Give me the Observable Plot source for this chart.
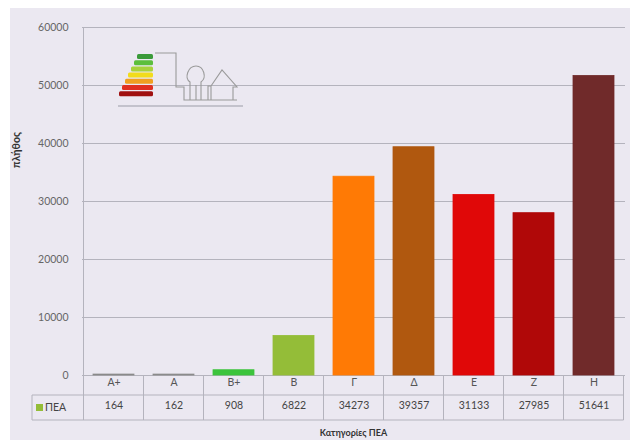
<!DOCTYPE html>
<html><head><meta charset="utf-8">
<script src="https://cdn.jsdelivr.net/npm/d3@7"></script>
<script src="https://cdn.jsdelivr.net/npm/@observablehq/plot@0.6"></script>
<style>
body{margin:0;background:#fff;}
#wrap{position:absolute;left:0;top:0;width:630px;height:440px;}
</style></head><body><div id="wrap"></div>
<script>
const categories = ["A+","A","B+","B","Γ","Δ","Ε","Ζ","Η"];
const values = [164,162,908,6822,34273,39357,31133,27985,51641];
const barColors = ["#8a8a8a","#8a8a8a","#3cc43c","#94bd38","#ff7a05","#b0580f","#e00808","#b00808","#702a2a"];
const yTicks = [0,10000,20000,30000,40000,50000,60000];
const seriesName = "ΠΕΑ";
const yTitle = "πλήθος";
const xTitle = "Κατηγορίες ΠΕΑ";
const logoColors = ["#3a9a3a","#5cbf3c","#a8d23c","#f2dc1c","#f0a020","#e03020","#a01010"];

const data = categories.map((c, i) => ({cat: c, value: values[i]}));
const lineColor = "#b4b3bd";

const chart = Plot.plot({
  width: 630, height: 440,
  marginTop: 27, marginBottom: 65, marginLeft: 82, marginRight: 5,
  style: {background: "#ffffff", fontFamily: "Lato, 'Open Sans', sans-serif", fontSize: "10.5px", color: "#555"},
  x: {domain: categories, paddingInner: 0.32, paddingOuter: 0.16, axis: null},
  y: {domain: [0, 60000], axis: null},
  color: {domain: categories, range: barColors},
  marks: [
    Plot.gridY(yTicks, {stroke: lineColor, strokeOpacity: 1}),
    Plot.axisY(yTicks, {tickSize: 0, tickPadding: 14, tickFormat: d => String(d), fill: "#666", label: null}),
    Plot.barY(data, {x: "cat", y: "value", fill: "cat", stroke: "cat", strokeWidth: 0.8}),
    Plot.text(data, {x: "cat", text: "cat", frameAnchor: "bottom", dy: 10, fill: "#555"}),
    Plot.text(data, {x: "cat", text: d => String(d.value), frameAnchor: "bottom", dy: 33, fill: "#444"})
  ]
});
document.getElementById("wrap").appendChild(chart);

const svg = d3.select(chart);
svg.insert("rect", ":first-child").attr("x", 10).attr("y", 8).attr("width", 620).attr("height", 432).attr("fill", "#ebe8f1");
const xs = chart.scale("x"), ys = chart.scale("y");
const step = xs.step;
const y0 = ys.apply(0), yTop = ys.apply(60000);
const left0 = xs.apply(categories[0]) - (step - xs.bandwidth) / 2;
const right0 = left0 + step * categories.length;
const tableLeft = 32, row1 = y0 + 20, row2 = y0 + 45;
const g = svg.append("g").attr("stroke", lineColor).attr("stroke-width", 1).attr("fill", "none");
g.append("line").attr("x1", left0).attr("x2", left0).attr("y1", yTop).attr("y2", row2);
categories.forEach((c, i) => {
  const xx = left0 + step * (i + 1);
  g.append("line").attr("x1", xx).attr("x2", xx).attr("y1", y0).attr("y2", row2);
});
g.append("line").attr("x1", tableLeft).attr("x2", right0).attr("y1", row1).attr("y2", row1);
g.append("line").attr("x1", tableLeft).attr("x2", right0).attr("y1", row2).attr("y2", row2);
g.append("line").attr("x1", tableLeft).attr("x2", tableLeft).attr("y1", row1).attr("y2", row2);

svg.append("rect").attr("x", 36).attr("y", row1 + 9).attr("width", 7).attr("height", 7).attr("fill", barColors[3]);
svg.append("text").attr("x", 45).attr("y", (row1 + row2) / 2).attr("dy", "0.35em").attr("text-anchor", "start")
  .attr("font-size", 10.5).attr("fill", "#444").text(seriesName);

svg.append("text").attr("transform", `translate(20,150) rotate(-90)`).attr("text-anchor", "middle")
  .attr("font-size", 10.5).attr("font-weight", "bold").attr("fill", "#333").text(yTitle);
svg.append("text").attr("x", (left0 + right0) / 2).attr("y", 436).attr("text-anchor", "middle")
  .attr("font-size", 9).attr("font-weight", "bold").attr("fill", "#333").text(xTitle);

const logo = svg.append("g");
logoColors.forEach((c, i) => {
  logo.append("rect").attr("x", 137 - i * 3).attr("y", 54 + i * 6.2).attr("width", 16 + i * 3).attr("height", 5)
    .attr("rx", 1.5).attr("fill", c);
});
logo.append("path").attr("fill", "none").attr("stroke", "#9a9a9a").attr("stroke-width", 1.1)
  .attr("d", "M155,53 H176 V87 H184 V100 H237 M184,100 V88 M190,100 V82 C184,78 188,66 196,66 C204,66 207,78 201,82 V100 M196,100 V85 M208,100 V86 H211 L222,70 L237,87 H233 V100 M211,86 V100");
logo.append("rect").attr("x", 118).attr("y", 105).attr("width", 125).attr("height", 2).attr("fill", "#a8a8b4").attr("opacity", 0.6);
</script></body></html>
